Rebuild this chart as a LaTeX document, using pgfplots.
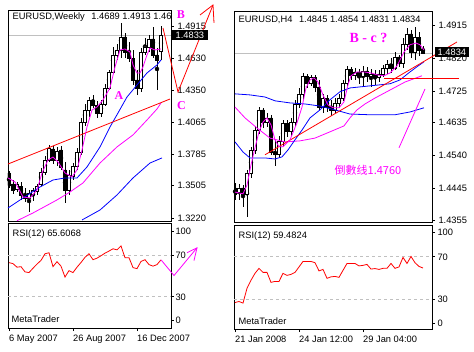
\documentclass[border=0pt]{standalone}
\usepackage{fontspec}
\setmainfont{Liberation Sans}
\newfontfamily\tnr{Liberation Serif}
\newfontfamily\cjk{Noto Sans CJK SC}
\usepackage{pgfplots}
\usepackage{pgfplotstable}
\pgfplotsset{compat=1.18}
\definecolor{mtmag}{RGB}{255,0,255}
\definecolor{mtblue}{RGB}{0,0,255}
\definecolor{mtred}{RGB}{255,0,0}
\definecolor{mtgrey}{RGB}{192,192,192}

\pgfplotstableread{
i O H L C
0 1.3617 1.3635 1.3485 1.3511
1 1.3520 1.3555 1.3432 1.3467
2 1.3476 1.3538 1.3449 1.3520
3 1.3502 1.3538 1.3379 1.3423
4 1.3423 1.3485 1.3361 1.3396
5 1.3396 1.3467 1.3273 1.3440
6 1.3432 1.3485 1.3370 1.3467
7 1.3458 1.3520 1.3423 1.3502
8 1.3520 1.3661 1.3502 1.3626
9 1.3626 1.3767 1.3599 1.3732
10 1.3732 1.3864 1.3714 1.3838
11 1.3829 1.3855 1.3696 1.3732
12 1.3732 1.3847 1.3679 1.3811
13 1.3820 1.3855 1.3644 1.3670
14 1.3644 1.3714 1.3352 1.3467
15 1.3467 1.3644 1.3423 1.3599
16 1.3591 1.3705 1.3555 1.3679
17 1.3679 1.3838 1.3644 1.3802
18 1.3802 1.4103 1.3776 1.4067
19 1.4067 1.4226 1.4032 1.4173
20 1.4173 1.4288 1.4112 1.4262
21 1.4262 1.4306 1.4191 1.4217
22 1.4217 1.4253 1.4103 1.4147
23 1.4147 1.4262 1.4112 1.4226
24 1.4226 1.4403 1.4209 1.4368
25 1.4368 1.4527 1.4350 1.4509
26 1.4509 1.4730 1.4491 1.4659
27 1.4659 1.4756 1.4615 1.4703
28 1.4703 1.4942 1.4632 1.4818
29 1.4818 1.4853 1.4632 1.4685
30 1.4685 1.4774 1.4597 1.4632
31 1.4632 1.4703 1.4394 1.4438
32 1.4438 1.4527 1.4306 1.4368
33 1.4368 1.4721 1.4332 1.4685
34 1.4685 1.4809 1.4659 1.4730
35 1.4730 1.4836 1.4685 1.4800
36 1.4800 1.4906 1.4632 1.4659
37 1.4659 1.4721 1.4350 1.4615
38 1.4689 1.4913 1.4615 1.4833
}\weekly

\pgfplotstableread{
i O H L C
0 1.4447 1.4461 1.4412 1.4427
1 1.4435 1.4458 1.4412 1.4447
2 1.4447 1.4455 1.4392 1.4427
3 1.4427 1.4499 1.4364 1.4490
4 1.4490 1.4565 1.4476 1.4556
5 1.4556 1.4625 1.4545 1.4613
6 1.4613 1.4679 1.4602 1.4671
7 1.4671 1.4677 1.4619 1.4634
8 1.4634 1.4662 1.4622 1.4648
9 1.4648 1.4657 1.4542 1.4550
10 1.4550 1.4585 1.4510 1.4542
11 1.4542 1.4596 1.4533 1.4582
12 1.4582 1.4642 1.4567 1.4631
13 1.4631 1.4642 1.4593 1.4608
14 1.4608 1.4648 1.4596 1.4636
15 1.4636 1.4700 1.4625 1.4688
16 1.4688 1.4734 1.4677 1.4717
17 1.4717 1.4777 1.4700 1.4766
18 1.4766 1.4774 1.4734 1.4746
19 1.4746 1.4771 1.4740 1.4763
20 1.4763 1.4771 1.4723 1.4737
21 1.4737 1.4757 1.4671 1.4679
22 1.4679 1.4717 1.4662 1.4705
23 1.4705 1.4714 1.4665 1.4677
24 1.4677 1.4700 1.4654 1.4671
25 1.4671 1.4705 1.4662 1.4691
26 1.4691 1.4717 1.4677 1.4705
27 1.4705 1.4757 1.4697 1.4746
28 1.4746 1.4797 1.4740 1.4786
29 1.4786 1.4794 1.4757 1.4769
30 1.4769 1.4792 1.4757 1.4780
31 1.4780 1.4789 1.4746 1.4766
32 1.4766 1.4797 1.4740 1.4783
33 1.4783 1.4794 1.4751 1.4766
34 1.4766 1.4789 1.4737 1.4774
35 1.4774 1.4786 1.4743 1.4763
36 1.4763 1.4786 1.4751 1.4774
37 1.4774 1.4800 1.4766 1.4789
38 1.4789 1.4814 1.4774 1.4803
39 1.4803 1.4820 1.4777 1.4789
40 1.4789 1.4837 1.4786 1.4823
41 1.4823 1.4829 1.4794 1.4806
42 1.4806 1.4878 1.4792 1.4860
43 1.4860 1.4906 1.4843 1.4889
44 1.4889 1.4901 1.4820 1.4837
45 1.4837 1.4909 1.4814 1.4878
46 1.4878 1.4895 1.4826 1.4843
47 1.4845 1.4854 1.4831 1.4834
}\hfour

\pgfplotstableread{
i r
0 62.9
1 61.9
2 58.5
3 59.0
4 54.0
5 53.3
6 57.5
7 61.5
8 65.0
9 71.4
10 72.4
11 59.0
12 63.8
13 59.5
14 49.0
15 55.2
16 53.3
17 58.5
18 63.0
19 68.0
20 71.4
21 65.7
22 67.2
23 69.5
24 72.0
25 74.0
26 76.2
27 75.2
28 79.0
29 67.6
30 67.6
31 58.1
32 57.1
33 64.0
34 65.7
35 61.0
36 59.5
37 61.0
38 65.6
}\rsiw

\pgfplotstableread{
i r
0 27.0
1 28.0
2 26.5
3 40.4
4 48.0
5 54.5
6 59.2
7 55.4
8 55.4
9 46.0
10 46.9
11 46.9
12 54.5
13 52.6
14 53.5
15 55.4
16 60.5
17 65.7
18 65.7
19 65.7
20 64.5
21 56.8
22 58.2
23 49.8
24 51.2
25 51.6
26 50.7
27 57.3
28 63.8
29 63.8
30 63.8
31 61.5
32 62.0
33 62.9
34 58.5
35 59.0
36 58.2
37 59.2
38 59.2
39 63.8
40 59.2
41 60.5
42 69.5
43 63.8
44 70.4
45 64.5
46 61.0
47 59.5
}\rsih

\pgfplotsset{
  mtbase/.style={anchor=south west, scale only axis,
    axis line style={line width=0.8pt, black},
    tick style={black, line width=0.8pt}, major tick length=3pt, tick align=outside,
    tick label style={font=\fontsize{9.3}{11}\selectfont}},
  lpos/.style={at={(8pt,130pt)}, width=163pt, height=211pt,
    xmin=-0.25, xmax=40.5, ymin=1.3193, ymax=1.5056},
  rpos/.style={at={(234pt,129pt)}, width=198pt, height=211pt,
    xmin=-0.25, xmax=49.25, ymin=1.4349, ymax=1.4955},
}

\begin{document}
\begin{tikzpicture}[font=\fontsize{9.3}{11}\selectfont]
\useasboundingbox (0pt,0pt) rectangle (474pt,351pt);
\fill[white] (0pt,0pt) rectangle (474pt,351pt);

% ===== LEFT: weekly =====
\begin{axis}[mtbase, lpos, hide axis]
\addplot[mtgrey, line width=0.8pt] coordinates {(-0.25,1.4833)(40.5,1.4833)};
\addplot[only marks, mark=none, error bars/.cd, y dir=both, y explicit, error mark=none,
  error bar style={black, line width=0.7pt}]
  table[x=i, y expr={(\thisrow{H}+\thisrow{L})/2}, y error expr={(\thisrow{H}-\thisrow{L})/2}] {\weekly};
\end{axis}
\begin{axis}[mtbase, lpos, hide axis, ybar stacked, bar width=2.6pt]
\addplot[draw=none, fill=none] table[x=i, y expr={min(\thisrow{O},\thisrow{C})}] {\weekly};
\addplot[draw=black, fill=white, line width=0.7pt] table[x=i, y expr={max(\thisrow{C}-\thisrow{O},0)}] {\weekly};
\addplot[draw=black, fill=black, line width=0.7pt] table[x=i, y expr={max(\thisrow{O}-\thisrow{C},0)}] {\weekly};
\end{axis}
\begin{axis}[mtbase, lpos, clip=false, xtick=\empty,
  ytick={1.3220,1.3505,1.3785,1.4065,1.4350,1.4630,1.4915},
  yticklabels={1.3220,1.3505,1.3785,1.4065,1.4350,1.4630,1.4915},
  ytick pos=right, yticklabel pos=right]
\addplot[mtblue, line width=0.8pt] coordinates {(18.25,1.3202)(22.75,1.3290)(27,1.3423)(31,1.3573)(35.25,1.3705)(38.25,1.3750)};
\addplot[mtmag, line width=0.8pt] coordinates {(2,1.3195)(6,1.3264)(12,1.3379)(15.25,1.3449)(18.5,1.3529)(22.75,1.3705)(27,1.3847)(31,1.3953)(34.5,1.4085)(37,1.4182)(38,1.4235)};
\addplot[mtblue, line width=0.8pt] coordinates {(-0.25,1.3308)(3.5,1.3396)(7.75,1.3493)(11,1.3555)(14,1.3573)(17,1.3573)(19.5,1.3670)(22.75,1.3847)(25.25,1.4023)(27.25,1.4147)(29.5,1.4288)(32,1.4394)(34.5,1.4500)(37,1.4571)(38,1.4615)};
\addplot[mtred, line width=0.8pt] coordinates {(-0.25,1.3696)(40.25,1.4270)};
\addplot[mtmag, line width=0.8pt] coordinates {(-0.25,1.3573)(1.5,1.3538)(3.5,1.3405)(5.25,1.3396)(7,1.3467)(8.25,1.3617)(9.75,1.3732)(11,1.3758)(12.25,1.3714)(14,1.3617)(15.75,1.3582)(17,1.3644)(18.25,1.3820)(19.5,1.4023)(20.75,1.4173)(22,1.4200)(23.5,1.4262)(25.25,1.4368)(26.5,1.4553)(27.75,1.4703)(29,1.4712)(30.25,1.4685)(31,1.4571)(32,1.4500)(32.75,1.4500)(33.5,1.4553)(34.5,1.4659)(35.25,1.4721)(36.5,1.4703)(38,1.4712)};
\addplot[mtred, line width=0.8pt] coordinates {(38.5,1.4897)(42.25,1.4332)(51,1.5100)};
\addplot[mtred, line width=0.8pt] coordinates {(47.75,1.5012)(51,1.5100)(51.25,1.4942)};
\end{axis}

\begin{axis}[mtbase, at={(8pt,23pt)}, width=163pt, height=105pt,
  xmin=-0.25, xmax=40.5, ymin=0, ymax=101, clip=false,
  xtick={0,16,32}, xticklabels={6 May 2007,26 Aug 2007,16 Dec 2007},
  xtick pos=left, xticklabel style={anchor=north west, inner xsep=0pt},
  ytick={7,30,70,93}, yticklabels={0,30,70,100}, ytick pos=right, yticklabel pos=right,
  yticklabel style={xshift=-2pt}]
\addplot[mtgrey, line width=0.8pt, dash pattern=on 3pt off 3pt] coordinates {(-0.25,70)(40.5,70)};
\addplot[mtgrey, line width=0.8pt, dash pattern=on 3pt off 3pt] coordinates {(-0.25,30)(40.5,30)};
\addplot[mtred, line width=0.8pt] table[x=i, y=r] {\rsiw};
\addplot[mtmag, line width=0.8pt] coordinates {(38,65.6)(41.25,50.5)(47,77.1)};
\addplot[mtmag, line width=0.8pt] coordinates {(44.5,72.4)(47,77.1)(46.25,64.8)};
\end{axis}

% ===== RIGHT: H4 =====
\begin{axis}[mtbase, rpos, hide axis]
\addplot[mtgrey, line width=0.8pt] coordinates {(-0.25,1.4834)(49.25,1.4834)};
\addplot[only marks, mark=none, error bars/.cd, y dir=both, y explicit, error mark=none,
  error bar style={black, line width=0.7pt}]
  table[x=i, y expr={(\thisrow{H}+\thisrow{L})/2}, y error expr={(\thisrow{H}-\thisrow{L})/2}] {\hfour};
\end{axis}
\begin{axis}[mtbase, rpos, hide axis, ybar stacked, bar width=2.6pt]
\addplot[draw=none, fill=none] table[x=i, y expr={min(\thisrow{O},\thisrow{C})}] {\hfour};
\addplot[draw=black, fill=white, line width=0.7pt] table[x=i, y expr={max(\thisrow{C}-\thisrow{O},0)}] {\hfour};
\addplot[draw=black, fill=black, line width=0.7pt] table[x=i, y expr={max(\thisrow{O}-\thisrow{C},0)}] {\hfour};
\end{axis}
\begin{axis}[mtbase, rpos, clip=false, xtick=\empty,
  ytick={1.4355,1.4445,1.4540,1.4635,1.4725,1.4820,1.4915},
  yticklabels={1.4355,1.4445,1.4540,1.4635,1.4725,1.4820,1.4915},
  ytick pos=right, yticklabel pos=right]
\addplot[mtblue, line width=0.8pt] coordinates {(0,1.4717)(3.75,1.4714)(7.5,1.4708)(10,1.4697)(13.75,1.4691)(17.5,1.4688)(21.25,1.4682)(25,1.4671)(28.75,1.4659)(33.75,1.4657)(40,1.4657)(43.75,1.4665)(47.25,1.4677)};
\addplot[mtmag, line width=0.8pt] coordinates {(0,1.4679)(2.5,1.4648)(5.5,1.4619)(8.75,1.4590)(12.5,1.4579)(16.25,1.4582)(20,1.4590)(23.75,1.4608)(27.25,1.4625)(28.75,1.4648)(30.5,1.4671)(32.5,1.4688)(35,1.4705)(38.75,1.4728)(42.5,1.4751)(46.75,1.4769)};
\addplot[mtblue, line width=0.8pt] coordinates {(0,1.4579)(2,1.4550)(3.75,1.4533)(7.5,1.4533)(10,1.4530)(11.75,1.4536)(13.25,1.4556)(15,1.4585)(16.75,1.4613)(18.75,1.4648)(21.25,1.4671)(23.75,1.4700)(26.25,1.4723)(28.75,1.4734)(33.75,1.4740)(38.75,1.4746)(41.25,1.4757)(43.75,1.4780)(45.75,1.4797)(47.25,1.4809)};
\addplot[mtred, line width=0.8pt] coordinates {(7.5,1.4542)(55.5,1.4866)};
\addplot[mtred, line width=0.8pt] coordinates {(37.25,1.4762)(56,1.4762)};
\addplot[mtmag, line width=0.8pt] coordinates {(0,1.4435)(2,1.4430)(3,1.4455)(4,1.4513)(5,1.4562)(6,1.4608)(7,1.4636)(8,1.4648)(9,1.4628)(10,1.4585)(11,1.4565)(12,1.4565)(13.75,1.4585)(15.5,1.4634)(16.75,1.4679)(17.75,1.4734)(18.75,1.4757)(19.75,1.4763)(20.75,1.4751)(22,1.4714)(23.25,1.4685)(24.5,1.4677)(26,1.4677)(27.25,1.4694)(28.25,1.4743)(29,1.4769)(30.5,1.4780)(32.25,1.4780)(34,1.4777)(35.75,1.4771)(37.25,1.4769)(38.75,1.4777)(40.5,1.4797)(42.25,1.4837)(43.75,1.4858)(45.25,1.4863)(46.25,1.4858)(47.25,1.4843)};
\addplot[mtmag, line width=0.8pt] coordinates {(41,1.4562)(47.5,1.4731)};
\end{axis}

\begin{axis}[mtbase, at={(234pt,22pt)}, width=198pt, height=104pt,
  xmin=-0.25, xmax=49.25, ymin=2.1, ymax=100, clip=false,
  xtick={0,16,32}, xticklabels={21 Jan 2008,24 Jan 12:00,29 Jan 04:00},
  xtick pos=left, xticklabel style={anchor=north west, inner xsep=0pt},
  ytick={7.7,30,70,93.2}, yticklabels={0,30,70,100}, ytick pos=right, yticklabel pos=right,
  yticklabel style={xshift=-1pt}]
\addplot[mtgrey, line width=0.8pt, dash pattern=on 3pt off 3pt] coordinates {(-0.25,70)(49.25,70)};
\addplot[mtgrey, line width=0.8pt, dash pattern=on 3pt off 3pt] coordinates {(-0.25,30)(49.25,30)};
\addplot[mtred, line width=0.8pt] table[x=i, y=r] {\rsih};
\end{axis}

% ===== texts =====
\node[anchor=west, inner sep=0pt] at (12.5pt,333.5pt) {EURUSD,Weekly\hspace{4pt} 1.4689 1.4913 1.46};
\node[anchor=west, inner sep=0pt] at (238.5pt,331pt) {EURUSD,H4\hspace{4pt} 1.4845 1.4854 1.4831 1.4834};
\node[anchor=west, inner sep=0pt] at (12.5pt,117pt) {RSI(12) 65.6068};
\node[anchor=west, inner sep=0pt] at (11.5pt,31.5pt) {MetaTrader};
\node[anchor=west, inner sep=0pt] at (238.5pt,115pt) {RSI(12) 59.4824};
\node[anchor=west, inner sep=0pt] at (238.5pt,29.5pt) {MetaTrader};

\node[fill=black, text=white, inner xsep=3.5pt, inner ysep=1.6pt, anchor=west] at (172pt,316pt) {1.4833};
\node[fill=black, text=white, inner xsep=2.5pt, inner ysep=1.6pt, anchor=west] at (435pt,299pt) {1.4834};

\node[text=mtmag, inner sep=0pt, font=\tnr\bfseries\fontsize{12}{12}\selectfont] at (119pt,255pt) {A};
\node[text=mtmag, inner sep=0pt, font=\tnr\bfseries\fontsize{12}{12}\selectfont] at (181pt,336pt) {B};
\node[text=mtmag, inner sep=0pt, font=\tnr\bfseries\fontsize{12}{12}\selectfont] at (181.5pt,245pt) {C};
\node[text=mtmag, inner sep=0pt, font=\tnr\bfseries\fontsize{14}{14}\selectfont] at (368.5pt,313.5pt) {B - c ?};
\node[text=mtmag, inner sep=0pt, font=\cjk\fontsize{11}{11}\selectfont] at (368pt,181pt) {倒數线1.4760};
\end{tikzpicture}
\end{document}
